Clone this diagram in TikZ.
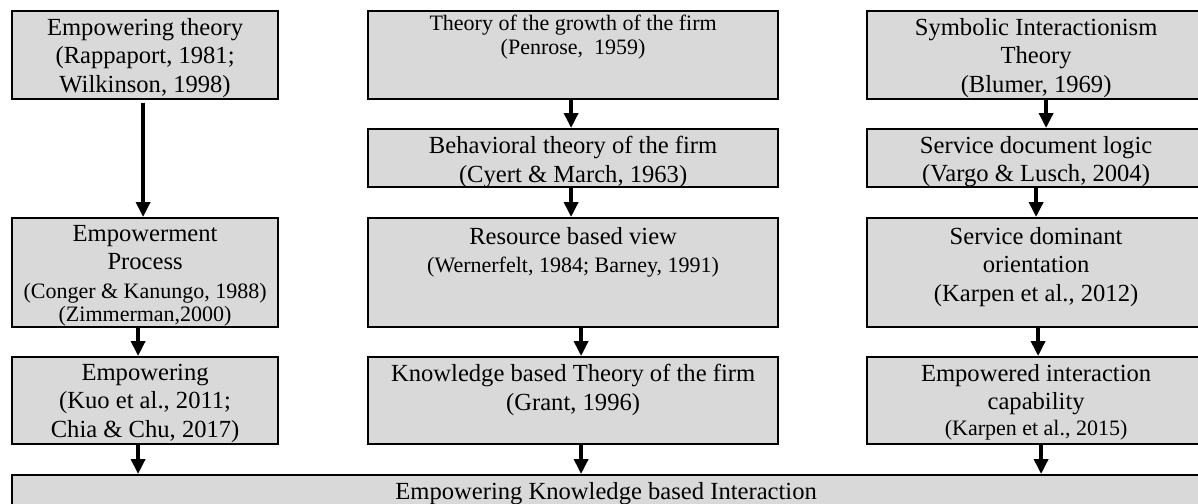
\documentclass[tikz,border=0pt]{standalone}
\usepackage{fontspec}
\setmainfont{Liberation Serif}
\usetikzlibrary{arrows.meta}
\definecolor{boxgray}{HTML}{D9D9D9}
\newcommand{\bigtxt}{\fontsize{24.6}{28.5}\selectfont}
\newcommand{\smalltxt}{\fontsize{22}{25}\selectfont}

\tikzset{
  box/.style={draw, line width=2.2pt, fill=boxgray, anchor=north west, inner sep=0pt},
  txt/.style={anchor=north, align=center, inner sep=0pt, font=\bigtxt, yshift=-8pt},
  arr/.style={line width=3.5pt, -{Triangle[length=15pt,width=14pt]}},
}

\begin{document}
\begin{tikzpicture}[x=1pt, y=-1pt]
\clip (0,0) rectangle (1198,503);

% left column
\node (l1) [box, minimum width=266, minimum height=88] at (11,10) {};
\node (l2) [box, minimum width=266, minimum height=109] at (11,217) {};
\node (l3) [box, minimum width=266, minimum height=87] at (11,356) {};
\node (l1t) [txt] at (l1.north) {Empowering theory\\(Rappaport, 1981;\\Wilkinson, 1998)};
\node (l2t) [txt] at (l2.north) {Empowerment\\Process\\{\smalltxt (Conger \& Kanungo, 1988)}\\[-5pt]{\smalltxt (Zimmerman,2000)}};
\node (l3t) [txt] at (l3.north) {Empowering\\(Kuo et al., 2011;\\Chia \& Chu, 2017)};

% middle column
\node (m1) [box, minimum width=410, minimum height=88] at (367,10) {};
\node (m2) [box, minimum width=410, minimum height=58] at (367,128) {};
\node (m3) [box, minimum width=410, minimum height=109] at (367,217) {};
\node (m4) [box, minimum width=410, minimum height=87] at (367,356) {};
\node (m1t) [txt, font=\smalltxt, yshift=3pt] at (m1.north) {Theory of the growth of the firm\\[-1pt](Penrose,\ \ 1959)};
\node (m2t) [txt] at (m2.north) {Behavioral theory of the firm\\(Cyert \& March, 1963)};
\node (m3t) [txt, yshift=-2pt] at (m3.north) {Resource based view\\{\smalltxt (Wernerfelt, 1984; Barney, 1991)}};
\node (m4t) [txt] at (m4.north) {Knowledge based Theory of the firm\\(Grant, 1996)};

% right column
\node (r1) [box, minimum width=338, minimum height=88] at (866,10) {};
\node (r2) [box, minimum width=338, minimum height=58] at (866,128) {};
\node (r3) [box, minimum width=338, minimum height=109] at (866,217) {};
\node (r4) [box, minimum width=338, minimum height=87] at (866,356) {};
\node (r1t) [txt] at (r1.north) {Symbolic Interactionism\\Theory\\(Blumer, 1969)};
\node (r2t) [txt] at (r2.north) {Service document logic\\(Vargo \& Lusch, 2004)};
\node (r3t) [txt, yshift=-2pt] at (r3.north) {Service dominant\\orientation\\(Karpen et al., 2012)};
\node (r4t) [txt] at (r4.north) {Empowered interaction\\capability\\[-3pt]{\smalltxt (Karpen et al., 2015)}};

% bottom
\node (bot) [box, minimum width=1188, minimum height=60] at (11,474) {};
\node (bott) [txt] at (bot.north) {Empowering Knowledge based Interaction};

% arrows
\draw[arr] ([xshift=-2pt, yshift=-3pt]l1.south) -- ([xshift=-2pt]l2.north);
\draw[arr] ([xshift=-7pt]l2.south) -- ([xshift=-7pt]l3.north);
\draw[arr] ([xshift=-7pt]l3.south) -- ([xshift=-7pt]l3.south |- bot.north);

\draw[arr] ([xshift=-2pt]m1.south) -- ([xshift=-2pt]m2.north);
\draw[arr] ([xshift=-2pt]m2.south) -- ([xshift=-2pt]m3.north);
\draw[arr] ([xshift=8pt]m3.south) -- ([xshift=8pt]m4.north);
\draw[arr] ([xshift=8pt]m4.south) -- ([xshift=8pt]m4.south |- bot.north);

\draw[arr] ([xshift=10pt]r1.south) -- ([xshift=10pt]r2.north);
\draw[arr] (r2.south) -- (r3.north);
\draw[arr] ([xshift=2pt]r3.south) -- ([xshift=2pt]r4.north);
\draw[arr] ([xshift=5pt]r4.south) -- ([xshift=5pt]r4.south |- bot.north);
\end{tikzpicture}
\end{document}
